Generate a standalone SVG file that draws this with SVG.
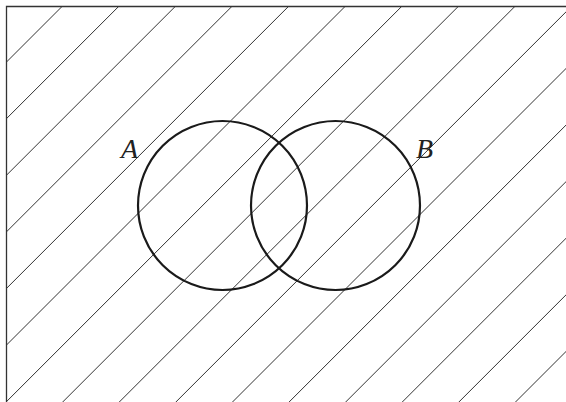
<svg xmlns="http://www.w3.org/2000/svg" width="566" height="402" viewBox="0 0 566 402">
<style>
.hatch{stroke:#333;stroke-width:1;fill:none}
.frame{stroke:#333;stroke-width:1.3;fill:none}
.set{stroke:#1a1a1a;stroke-width:2.2;fill:none}
.lbl{font-family:"Liberation Serif",serif;font-style:italic;font-size:28px;fill:#222}
</style>
<defs>
<clipPath id="area"><rect x="6.5" y="6.5" width="560" height="396"/></clipPath>
</defs>
<rect width="566" height="402" fill="#fff"/>
<g id="hatching" clip-path="url(#area)">
<line class="hatch" x1="-100" y1="168.5" x2="700" y2="-631.5"/>
<line class="hatch" x1="-100" y1="225.1" x2="700" y2="-574.9"/>
<line class="hatch" x1="-100" y1="281.7" x2="700" y2="-518.3"/>
<line class="hatch" x1="-100" y1="338.3" x2="700" y2="-461.7"/>
<line class="hatch" x1="-100" y1="394.9" x2="700" y2="-405.1"/>
<line class="hatch" x1="-100" y1="451.5" x2="700" y2="-348.5"/>
<line class="hatch" x1="-100" y1="508.1" x2="700" y2="-291.9"/>
<line class="hatch" x1="-100" y1="564.7" x2="700" y2="-235.3"/>
<line class="hatch" x1="-100" y1="621.3" x2="700" y2="-178.7"/>
<line class="hatch" x1="-100" y1="677.9" x2="700" y2="-122.1"/>
<line class="hatch" x1="-100" y1="734.5" x2="700" y2="-65.5"/>
<line class="hatch" x1="-100" y1="791.1" x2="700" y2="-8.9"/>
<line class="hatch" x1="-100" y1="847.7" x2="700" y2="47.7"/>
<line class="hatch" x1="-100" y1="904.3" x2="700" y2="104.3"/>
<line class="hatch" x1="-100" y1="960.9" x2="700" y2="160.9"/>
<line class="hatch" x1="-100" y1="1017.5" x2="700" y2="217.5"/>
</g>
<g id="frame"><path class="frame" d="M6.5,402 V6.5 H566"/></g>
<g id="setA">
<circle class="set" cx="222.5" cy="205.5" r="84.5"/>
<text class="lbl" x="121" y="157.5">A</text>
</g>
<g id="setB">
<circle class="set" cx="335.5" cy="205.5" r="84.5"/>
<text class="lbl" x="416" y="157.5">B</text>
</g>
</svg>
